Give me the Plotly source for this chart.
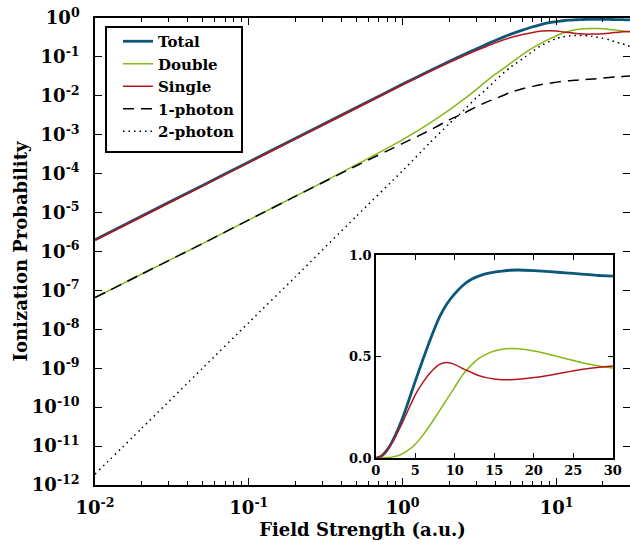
import plotly.graph_objects as go
import math

# ---------------- data ----------------
field = [0.01, 0.02, 0.05, 0.1, 0.2, 0.5, 1, 1.5, 2, 2.5, 3, 3.5, 4, 5, 6, 7, 8, 9,
         10, 11, 12, 13, 14, 15, 16, 17, 18, 20, 22, 24, 26, 28, 30]

total = [2.0e-6, 8.0e-6, 5.0e-5, 2.0e-4, 8.0e-4, 5.0e-3, 0.020, 0.044, 0.076, 0.115,
         0.16, 0.21, 0.265, 0.38, 0.49, 0.595, 0.69, 0.76, 0.81, 0.85, 0.878, 0.896,
         0.908, 0.916, 0.921, 0.925, 0.926, 0.923, 0.918, 0.912, 0.906, 0.900, 0.896]

double = [6.5e-8, 2.6e-7, 1.6e-6, 6.5e-6, 2.6e-5, 1.7e-4, 7.5e-4, 2.0e-3, 4.3e-3,
          8.2e-3, 0.0145, 0.024, 0.036, 0.068, 0.115, 0.17, 0.23, 0.29, 0.35, 0.41,
          0.455, 0.49, 0.512, 0.527, 0.536, 0.539, 0.538, 0.527, 0.51, 0.49, 0.47,
          0.455, 0.443]

single = [1.93e-6, 7.7e-6, 4.8e-5, 1.93e-4, 7.7e-4, 4.8e-3, 0.0193, 0.042, 0.0717,
          0.107, 0.1455, 0.186, 0.229, 0.312, 0.375, 0.425, 0.46, 0.47, 0.46, 0.44,
          0.423, 0.406, 0.396, 0.389, 0.385, 0.386, 0.388, 0.396, 0.408, 0.422, 0.436,
          0.446, 0.453]

one_photon = [6.5e-8, 2.6e-7, 1.6e-6, 6.5e-6, 2.6e-5, 1.6e-4, 6.0e-4, 1.3e-3, 2.4e-3,
              3.6e-3, 5.2e-3, 6.9e-3, 8.5e-3, 0.0122, 0.0152, 0.0175, 0.0195, 0.0211,
              0.0225, 0.0236, 0.0245, 0.0250, 0.0255, 0.0260, 0.0265, 0.0270, 0.0275,
              0.0285, 0.0295, 0.0305, 0.0310, 0.0318, 0.0325]

two_photon = [1.9e-12, 2.8e-11, 1.0e-9, 1.5e-8, 2.2e-7, 8.1e-6, 1.2e-4, 6.2e-4, 1.9e-3,
              4.3e-3, 8.9e-3, 0.0148, 0.025, 0.054, 0.089, 0.14, 0.20, 0.25, 0.30,
              0.33, 0.345, 0.355, 0.355, 0.355, 0.347, 0.34, 0.325, 0.30, 0.275,
              0.245, 0.224, 0.205, 0.186]

x_major = [0.01, 0.1, 1, 10]
x_major_text = ["10<sup>-2</sup>", "10<sup>-1</sup>", "10<sup>0</sup>", "10<sup>1</sup>"]
y_major = [10.0 ** (-k) for k in range(0, 13)]
y_major_text = ["10<sup>0</sup>"] + ["10<sup>-%d</sup>" % k for k in range(1, 13)]
inset_x_ticks = [0, 5, 10, 15, 20, 25, 30]
inset_y_ticks = [0.0, 0.5, 1.0]
inset_y_text = ["0.0", "0.5", "1.0"]

# ---------------- style ----------------
FONT = "DejaVu Serif"
C_TOTAL = "#0b5878"
C_DOUBLE = "#86b817"
C_SINGLE = "#b8151b"

x_minor = [m * d for d in (0.01, 0.1, 1, 10) for m in range(2, 10) if m * d <= 30]

fig = go.Figure()

def add(y, name, color, width, dash=None, xa="x", ya="y", show=True):
    fig.add_trace(go.Scatter(
        x=field, y=y, name=name, mode="lines", xaxis=xa, yaxis=ya,
        showlegend=show,
        line=dict(color=color, width=width, dash=dash, shape="spline", smoothing=0.6)))

add(total, "Total", C_TOTAL, 2.8)
add(double, "Double", C_DOUBLE, 1.5)
add(single, "Single", C_SINGLE, 1.5)
add(one_photon, "1-photon", "black", 1.5, dash="11px,7px")
add(two_photon, "2-photon", "black", 1.5, dash="1.5px,4px")

add(total, "Total", C_TOTAL, 2.8, xa="x2", ya="y2", show=False)
add(double, "Double", C_DOUBLE, 1.5, xa="x2", ya="y2", show=False)
add(single, "Single", C_SINGLE, 1.5, xa="x2", ya="y2", show=False)

axfont = dict(family=FONT, size=18, color="black", weight="bold")
insfont = dict(family=FONT, size=13, color="black", weight="bold")
titlefont = dict(family=FONT, size=18, color="black", weight="bold")

fig.update_layout(
    width=630, height=548,
    margin=dict(l=95, r=0, t=18, b=63),
    paper_bgcolor="white", plot_bgcolor="white",
    font=dict(family=FONT, color="black", weight="bold"),
    showlegend=True,
    legend=dict(x=0.043, y=0.985, xanchor="left", yanchor="top",
                bgcolor="rgba(0,0,0,0)", borderwidth=0,
                font=dict(family=FONT, size=15, color="black", weight="bold"),
                tracegroupgap=0, itemwidth=30),
    # legend frame
    shapes=[dict(type="rect", xref="paper", yref="paper",
                 x0=0.0206, x1=0.2748, y0=0.713, y1=0.9807,
                 line=dict(color="black", width=2), fillcolor="white", layer="below")],
    xaxis=dict(type="log", range=[-2, math.log10(30)], domain=[0, 1], automargin=False,
               showgrid=False, zeroline=False,
               showline=True, linecolor="black", linewidth=1.5, mirror="allticks",
               ticks="inside", ticklen=7, tickwidth=1, tickcolor="black",
               tickmode="array", tickvals=x_major, ticktext=x_major_text,
               tickfont=axfont, ticklabelstandoff=6, ticklabeloverflow="allow",
               minor=dict(ticks="inside", ticklen=4, tickwidth=1, tickcolor="black",
                          tickmode="array", tickvals=x_minor, showgrid=False),
               title=dict(text="Field Strength (a.u.)", standoff=6, font=titlefont)),
    yaxis=dict(type="log", range=[-12, 0], domain=[0, 1], automargin=False,
               showgrid=False, zeroline=False,
               showline=True, linecolor="black", linewidth=1.5, mirror="allticks",
               ticks="inside", ticklen=7, tickwidth=1, tickcolor="black",
               tickmode="array", tickvals=y_major, ticktext=y_major_text,
               tickfont=axfont, ticklabelstandoff=10, ticklabeloverflow="allow",
               title=dict(text="Ionization Probability", standoff=0, font=titlefont)),
    xaxis2=dict(range=[0, 30], domain=[0.525, 0.968], anchor="y2", automargin=False,
                showgrid=False, zeroline=False,
                showline=True, linecolor="black", linewidth=1.5, mirror="allticks",
                ticks="inside", ticklen=5, tickwidth=1, tickcolor="black",
                tickmode="array", tickvals=inset_x_ticks, tickfont=insfont),
    yaxis2=dict(range=[0, 1], domain=[0.0578, 0.4925], anchor="x2", automargin=False,
                showgrid=False, zeroline=False,
                showline=True, linecolor="black", linewidth=1.5, mirror="allticks",
                ticks="inside", ticklen=5, tickwidth=1, tickcolor="black",
                tickmode="array", tickvals=inset_y_ticks, ticktext=inset_y_text,
                tickfont=insfont),
)

# remove the browser's default 8px page margin so the 630x548 figure fills the window
fig.write_html("out.html", config={"displayModeBar": False},
               post_script="document.body.style.margin='0';")
